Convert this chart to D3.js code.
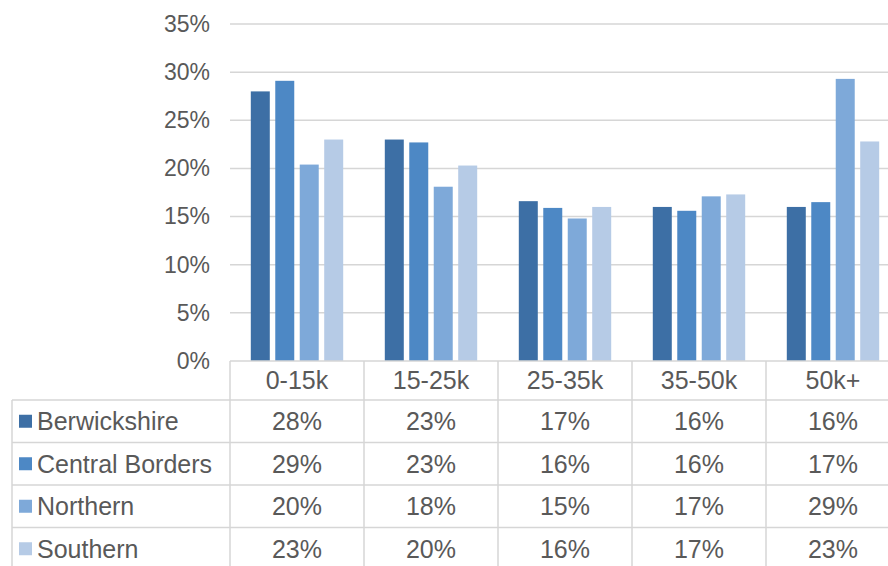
<!DOCTYPE html>
<html>
<head>
<meta charset="utf-8">
<script src="https://cdn.jsdelivr.net/npm/d3@7"></script>
<style>
  html, body { margin: 0; padding: 0; background: #ffffff; }
  svg { display: block; font-family: "Liberation Sans", Arial, sans-serif; }
</style>
</head>
<body>
<svg id="chart" width="888" height="566"></svg>
<script>
// Household income bands
const categories = ["0-15k", "15-25k", "25-35k", "35-50k", "50k+"];
const seriesNames = ["Berwickshire", "Central Borders", "Northern", "Southern"];

// Share of households per band, in percent
const berwickshire   = [28.0, 23.0, 16.6, 16.0, 16.0];
const centralBorders = [29.1, 22.7, 15.9, 15.6, 16.5];
const northern       = [20.4, 18.1, 14.8, 17.1, 29.3];
const southern       = [23.0, 20.3, 16.0, 17.3, 22.8];

const yTicks = [0, 5, 10, 15, 20, 25, 30, 35];

const seriesValues = [berwickshire, centralBorders, northern, southern];
const colors = ["#3d6fa5", "#4d88c5", "#7ea9d9", "#b6cbe6"];

const svg = d3.select("#chart");
const textColor = "#595959";
const lineColor = "#d6d6d6";

const plotLeft = 230, plotRight = 900;
const plotTop = 24, plotBottom = 361;

const x0 = d3.scaleBand().domain(categories).range([plotLeft, plotRight]).padding(0);
const x1 = d3.scaleBand().domain(seriesNames).range([0, x0.bandwidth()])
  .paddingInner(0.224).paddingOuter(0.85);
const y = d3.scaleLinear().domain([0, 35]).range([plotBottom, plotTop]);

// gridlines
svg.append("g")
  .selectAll("line")
  .data(yTicks.filter(t => t > 0))
  .join("line")
  .attr("x1", plotLeft).attr("x2", 888)
  .attr("y1", d => y(d)).attr("y2", d => y(d))
  .attr("stroke", lineColor).attr("stroke-width", 1.5);

// y axis labels
const yAxis = d3.axisLeft(y).tickValues(yTicks).tickSize(0).tickPadding(20)
  .tickFormat(d => d + "%");
const yg = svg.append("g").attr("transform", `translate(${plotLeft},0)`).call(yAxis);
yg.select(".domain").remove();
yg.selectAll("text")
  .attr("fill", textColor)
  .style("font-size", "23px")
  .style("font-family", "'Liberation Sans', Arial, sans-serif");

// bars
const groups = svg.append("g")
  .selectAll("g")
  .data(categories)
  .join("g")
  .attr("transform", d => `translate(${x0(d)},0)`);

groups.selectAll("rect")
  .data((c, ci) => seriesNames.map((s, si) => ({ s, si, v: seriesValues[si][ci] })))
  .join("rect")
  .attr("x", d => x1(d.s))
  .attr("width", x1.bandwidth())
  .attr("y", d => y(d.v))
  .attr("height", d => y(0) - y(d.v))
  .attr("fill", d => colors[d.si]);

// data table
const table = svg.append("g");
const headerTop = plotBottom, headerBottom = 400;
const rowH = 42.5;
const legendLeft = 12;

// header row border
table.append("line")
  .attr("x1", plotLeft).attr("x2", plotRight)
  .attr("y1", headerTop).attr("y2", headerTop)
  .attr("stroke", lineColor).attr("stroke-width", 1.5);

// horizontal row lines
const rowLines = d3.range(seriesNames.length + 1).map(i => headerBottom + i * rowH);
table.selectAll("line.row")
  .data(rowLines)
  .join("line")
  .attr("class", "row")
  .attr("x1", legendLeft).attr("x2", plotRight)
  .attr("y1", d => d).attr("y2", d => d)
  .attr("stroke", lineColor).attr("stroke-width", 1.5);

// vertical column lines
const colEdges = categories.map(c => x0(c)).concat([plotRight]);
table.selectAll("line.col")
  .data(colEdges)
  .join("line")
  .attr("class", "col")
  .attr("x1", d => d).attr("x2", d => d)
  .attr("y1", headerTop).attr("y2", headerBottom + seriesNames.length * rowH)
  .attr("stroke", lineColor).attr("stroke-width", 1.5);

table.append("line")
  .attr("x1", legendLeft).attr("x2", legendLeft)
  .attr("y1", headerBottom).attr("y2", headerBottom + seriesNames.length * rowH)
  .attr("stroke", lineColor).attr("stroke-width", 1.5);

// header labels
table.selectAll("text.head")
  .data(categories)
  .join("text")
  .attr("class", "head")
  .attr("x", d => x0(d) + x0.bandwidth() / 2)
  .attr("y", (headerTop + headerBottom) / 2)
  .attr("dy", "0.35em")
  .attr("text-anchor", "middle")
  .attr("fill", textColor)
  .style("font-size", "25px")
  .text(d => d);

// rows: legend key + values
const rows = table.selectAll("g.rowg")
  .data(seriesNames)
  .join("g")
  .attr("class", "rowg")
  .attr("transform", (d, i) => `translate(0,${headerBottom + i * rowH + rowH / 2})`);

rows.append("rect")
  .attr("x", 19).attr("y", -6.5)
  .attr("width", 13).attr("height", 13)
  .attr("fill", (d, i) => colors[i]);

rows.append("text")
  .attr("x", 37)
  .attr("dy", "0.35em")
  .attr("fill", textColor)
  .style("font-size", "25px")
  .text(d => d);

rows.selectAll("text.val")
  .data((s, si) => categories.map((c, ci) => ({ c, v: seriesValues[si][ci] })))
  .join("text")
  .attr("class", "val")
  .attr("x", d => x0(d.c) + x0.bandwidth() / 2)
  .attr("dy", "0.35em")
  .attr("text-anchor", "middle")
  .attr("fill", textColor)
  .style("font-size", "25px")
  .text(d => Math.round(d.v) + "%");
</script>
</body>
</html>
